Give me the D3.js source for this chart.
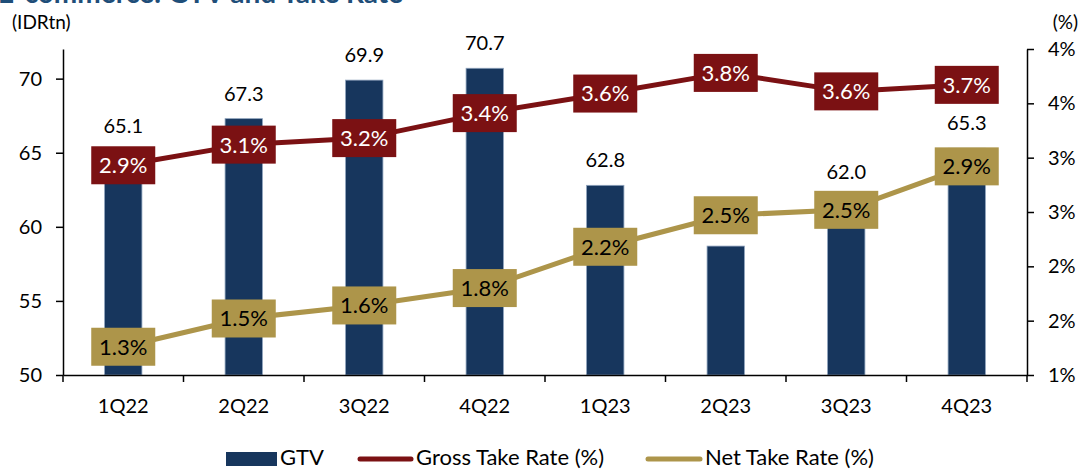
<!DOCTYPE html>
<html>
<head>
<meta charset="utf-8">
<script src="https://cdn.jsdelivr.net/npm/d3@7"></script>
<style>
  html, body { margin: 0; padding: 0; background: #fff; }
  svg { display: block; font-family: "Lato", "Open Sans", sans-serif; }
</style>
</head>
<body>
<svg id="chart" width="1081" height="470"></svg>
<script>
const categories = ["1Q22", "2Q22", "3Q22", "4Q22", "1Q23", "2Q23", "3Q23", "4Q23"];
const gtv = [65.1, 67.3, 69.9, 70.7, 62.8, 58.7, 62.0, 65.3];
const grossTakeRate = [2.93, 3.12, 3.18, 3.41, 3.59, 3.78, 3.61, 3.67];
const netTakeRate = [1.26, 1.52, 1.64, 1.80, 2.18, 2.47, 2.52, 2.92];
const leftTicks = [50, 55, 60, 65, 70];
const rightTicks = [1, 1.5, 2, 2.5, 3, 3.5, 4];
const seriesNames = ["GTV", "Gross Take Rate (%)", "Net Take Rate (%)"];

const C_BAR = "#17365d", C_GROSS = "#7b1113", C_NET = "#ad954a";

const svg = d3.select("#chart");
const plot = { left: 63, right: 1027, top: 49, bottom: 375 };

const x = d3.scaleBand().domain(categories).range([plot.left, plot.right]).padding(0);
const yL = d3.scaleLinear().domain([50, 72]).range([plot.bottom, plot.top]);
const yR = d3.scaleLinear().domain([1, 4]).range([plot.bottom, plot.top]);
const cx = c => x(c) + x.bandwidth() / 2;
const barW = x.step() * 0.31;
const BOX_W = 64, BOX_H = 38;

// Title (cut off at top)
svg.append("text").attr("x", -2).attr("y", 3)
  .attr("font-size", 28).attr("font-weight", 700).attr("fill", "#1f4e79")
  .text("E-commerce: GTV and Take Rate");

// unit labels
svg.append("text").attr("x", 12).attr("y", 29).attr("font-size", 19).attr("fill", "#000").text("(IDRtn)");
svg.append("text").attr("x", 1078).attr("y", 29).attr("font-size", 19).attr("fill", "#000")
  .attr("text-anchor", "end").text("(%)");

// Bars
svg.append("g").selectAll("rect").data(categories).join("rect")
  .attr("x", (c) => cx(c) - barW / 2)
  .attr("y", (c, i) => yL(gtv[i]))
  .attr("width", barW)
  .attr("height", (c, i) => yL(50) - yL(gtv[i]))
  .attr("fill", C_BAR)
  .attr("stroke", "#8fa3bd").attr("stroke-width", 0.8);

// Bar labels (a label that sits fully under a rate box is hidden by it, as in the source)
function coveredByBox(i) {
  const top = yL(gtv[i]) - 18 - 15, bot = yL(gtv[i]) - 18;
  return [grossTakeRate[i], netTakeRate[i]].some(v => {
    const b0 = yR(v) - BOX_H / 2, b1 = yR(v) + BOX_H / 2;
    return top >= b0 && bot <= b1;
  });
}
const labelIdx = categories.map((c, i) => i).filter(i => !coveredByBox(i));
svg.append("g").selectAll("text").data(labelIdx).join("text")
  .attr("x", i => cx(categories[i]))
  .attr("y", i => yL(gtv[i]) - 18)
  .attr("text-anchor", "middle").attr("font-size", 20).attr("fill", "#000")
  .text(i => gtv[i].toFixed(1));

// Axes
const axisL = d3.axisLeft(yL).tickValues(leftTicks).tickSize(7).tickSizeOuter(0).tickPadding(14);
const gL = svg.append("g").attr("transform", `translate(${plot.left},0)`).call(axisL);
const axisR = d3.axisRight(yR).tickValues(rightTicks).tickSize(7).tickSizeOuter(0).tickPadding(14)
  .tickFormat(d => Math.round(d) + "%");
const gR = svg.append("g").attr("transform", `translate(${plot.right},0)`).call(axisR);
const axisB = d3.axisBottom(x).tickSize(0).tickSizeOuter(0).tickPadding(24);
const gB = svg.append("g").attr("transform", `translate(0,${plot.bottom})`).call(axisB);
// category boundary ticks
const bounds = categories.map(c => x(c)).concat([x(categories[categories.length - 1]) + x.step()]);
gB.selectAll("line.bt").data(bounds).join("line").attr("class", "bt")
  .attr("x1", d => d).attr("x2", d => d).attr("y1", 0).attr("y2", 7)
  .attr("stroke", "#000").attr("stroke-width", 1.5);

[gL, gR, gB].forEach(g => {
  g.selectAll(".domain").attr("stroke", "#000").attr("stroke-width", 1.5);
  g.selectAll(".tick line").attr("stroke", "#000").attr("stroke-width", 1.5);
  g.selectAll("text").attr("font-size", 20).attr("fill", "#000").attr("font-family", "Lato, sans-serif");
});

// Lines
const lineGen = d3.line().x((d, i) => cx(categories[i])).y(d => yR(d));
svg.append("path").attr("d", lineGen(grossTakeRate))
  .attr("fill", "none").attr("stroke", C_GROSS).attr("stroke-width", 5).attr("stroke-linejoin", "round");
svg.append("path").attr("d", lineGen(netTakeRate))
  .attr("fill", "none").attr("stroke", C_NET).attr("stroke-width", 5).attr("stroke-linejoin", "round");

// Label boxes
function boxes(vals, fill, txtColor) {
  const g = svg.append("g").selectAll("g").data(vals).join("g")
    .attr("transform", (d, i) => `translate(${cx(categories[i])},${yR(d)})`);
  g.append("rect").attr("x", -BOX_W / 2).attr("y", -BOX_H / 2).attr("width", BOX_W).attr("height", BOX_H).attr("fill", fill);
  g.append("text").attr("text-anchor", "middle").attr("dy", "0.36em")
    .attr("font-size", 22).attr("fill", txtColor).text(d => d.toFixed(1) + "%");
}
boxes(grossTakeRate, C_GROSS, "#fff");
boxes(netTakeRate, C_NET, "#000");

// Legend
const lg = svg.append("g").attr("font-size", 22).attr("fill", "#000");
lg.append("rect").attr("x", 226).attr("y", 452).attr("width", 51).attr("height", 14).attr("fill", C_BAR);
lg.append("text").attr("x", 280).attr("y", 465).text(seriesNames[0]);
lg.append("line").attr("x1", 360).attr("x2", 411).attr("y1", 459).attr("y2", 459)
  .attr("stroke", C_GROSS).attr("stroke-width", 5).attr("stroke-linecap", "round");
lg.append("text").attr("x", 416).attr("y", 465).text(seriesNames[1]);
lg.append("line").attr("x1", 648).attr("x2", 700).attr("y1", 459).attr("y2", 459)
  .attr("stroke", C_NET).attr("stroke-width", 5).attr("stroke-linecap", "round");
lg.append("text").attr("x", 705).attr("y", 465).text(seriesNames[2]);
</script>
</body>
</html>
